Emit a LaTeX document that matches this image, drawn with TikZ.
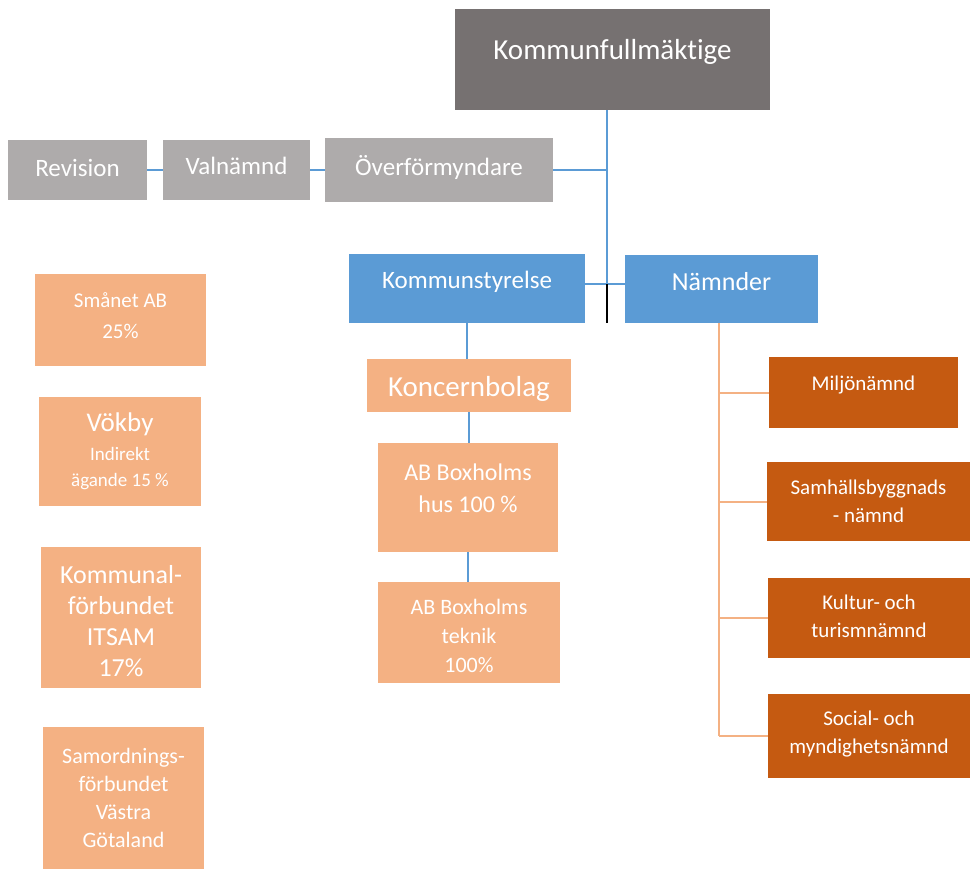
\documentclass[tikz,border=0pt]{standalone}
\usepackage{fontspec}
\setmainfont[Ligatures=NoCommon]{Carlito}
\definecolor{kfgray}{HTML}{767171}
\definecolor{sidegray}{HTML}{AEABAB}
\definecolor{ksblue}{HTML}{5B9BD5}
\definecolor{peach}{HTML}{F4B183}
\definecolor{rust}{HTML}{C55A11}
\newcommand\fsz[2]{\fontsize{#1bp}{#2bp}\selectfont}

\begin{document}
\begin{tikzpicture}[x=1bp,y=-1bp,
    box/.style={rectangle, inner sep=0pt, draw=none},
    txt/.style={text=white, align=center},
    blueline/.style={draw=ksblue, line width=1.4bp},
    orangeline/.style={draw=peach, line width=2bp}]
    \useasboundingbox (0,0) rectangle (970,869);

    % top
    \node(kf) at (612.5,59.5) [box, fill=kfgray, minimum width=315bp, minimum height=101bp, label={[txt, font=\fsz{29}{34}, yshift=8bp]center:Kommunfullmäktige}] {};
    \node(rev) at (77.5,170) [box, fill=sidegray, minimum width=139bp, minimum height=60bp, label={[txt, font=\fsz{25}{30}, yshift=2bp]center:Revision}] {};
    \node(val) at (236.5,170) [box, fill=sidegray, minimum width=147bp, minimum height=60bp, label={[txt, font=\fsz{25}{30}, yshift=4bp]center:Valnämnd}] {};
    \node(ovf) at (439,170) [box, fill=sidegray, minimum width=228bp, minimum height=64bp, label={[txt, font=\fsz{25}{30}, yshift=3bp]center:Överförmyndare}] {};
    \coordinate(j) at (607,284);

    % kommunstyrelse och bolag
    \node(ks) at (467,288.5) [box, fill=ksblue, minimum width=236bp, minimum height=69bp, label={[txt, font=\fsz{25}{30}, yshift=6.5bp]center:Kommunstyrelse}] {};
    \node(kb) at (469,385.5) [box, fill=peach, minimum width=204bp, minimum height=53bp, label={[txt, font=\fsz{29}{34}, yshift=-3bp]center:Koncernbolag}] {};
    \node(hus) at (468,497.5) [box, fill=peach, minimum width=180bp, minimum height=109bp, label={[txt, font=\fsz{24}{32}, yshift=9.5bp]center:AB Boxholms\\hus 100 \%}] {};
    \node(tek) at (469,632.5) [box, fill=peach, minimum width=182bp, minimum height=101bp, label={[txt, font=\fsz{22}{29}, yshift=-3bp]center:AB Boxholms\\teknik\\100\%}] {};

    % nämnder
    \node(nm) at (721.5,289) [box, fill=ksblue, minimum width=193bp, minimum height=68bp, label={[txt, font=\fsz{26}{31}, yshift=7bp]center:Nämnder}] {};
    \coordinate(n) at (719,323);
    \node(mil) at (863.5,392.5) [box, fill=rust, minimum width=189bp, minimum height=71bp, label={[txt, font=\fsz{21}{28}, yshift=7bp]center:Miljönämnd}] {};
    \node(sam) at (868.5,501.5) [box, fill=rust, minimum width=203bp, minimum height=79bp, label={[txt, font=\fsz{21}{28}]center:Samhällsbyggnads\\- nämnd}] {};
    \node(kul) at (869,618) [box, fill=rust, minimum width=202bp, minimum height=80bp, label={[txt, font=\fsz{21}{28}, yshift=2bp]center:Kultur- och\\turismnämnd}] {};
    \node(soc) at (869,736) [box, fill=rust, minimum width=202bp, minimum height=84bp, label={[txt, font=\fsz{21}{28}, yshift=2bp]center:Social- och\\myndighetsnämnd}] {};

    % delägda bolag
    \node(sma) at (120.5,320) [box, fill=peach, minimum width=171bp, minimum height=92bp, label={[txt, font=\fsz{21}{31}, yshift=4bp]center:Smånet AB\\25\%}] {};
    \node(vok) at (120,451.5) [box, fill=peach, minimum width=162bp, minimum height=109bp, label={[txt, font=\fsz{19}{26}]center:{\fsz{27}{30}Vökby}\\[3bp]Indirekt\\ägande 15 \%}] {};
    \node(kom) at (121,617.5) [box, fill=peach, minimum width=160bp, minimum height=141bp, label={[txt, font=\fsz{26}{31}, yshift=-4bp]center:Kommunal-\\förbundet\\ITSAM\\17\%}] {};
    \node(sao) at (123.5,798) [box, fill=peach, minimum width=161bp, minimum height=142bp, label={[txt, font=\fsz{22}{28}]center:Samordnings-\\förbundet\\Västra\\Götaland}] {};

    \draw[blueline] (kf.south -| j) -- (j);
    \draw[blueline] (rev.east) -- (val.west);
    \draw[blueline] (val.east) -- (ovf.west);
    \draw[blueline] (ovf.east) -- (ovf.east -| j);
    \draw[blueline] (ks.east |- j) -- (nm.west |- j);
    \draw[black, line width=2bp] (j) -- (j |- ks.south);
    \draw[blueline] (ks.south) -- (ks.south |- kb.north);
    \draw[blueline] (kb.south) -- (kb.south |- hus.north);
    \draw[blueline] (hus.south) -- (hus.south |- tek.north);
    \draw[orangeline] (n) -- (n |- soc.west);
    \foreach \c in {mil,sam,kul,soc}
        \draw[orangeline] (n |- \c.west) -- (\c.west);
\end{tikzpicture}
\end{document}
